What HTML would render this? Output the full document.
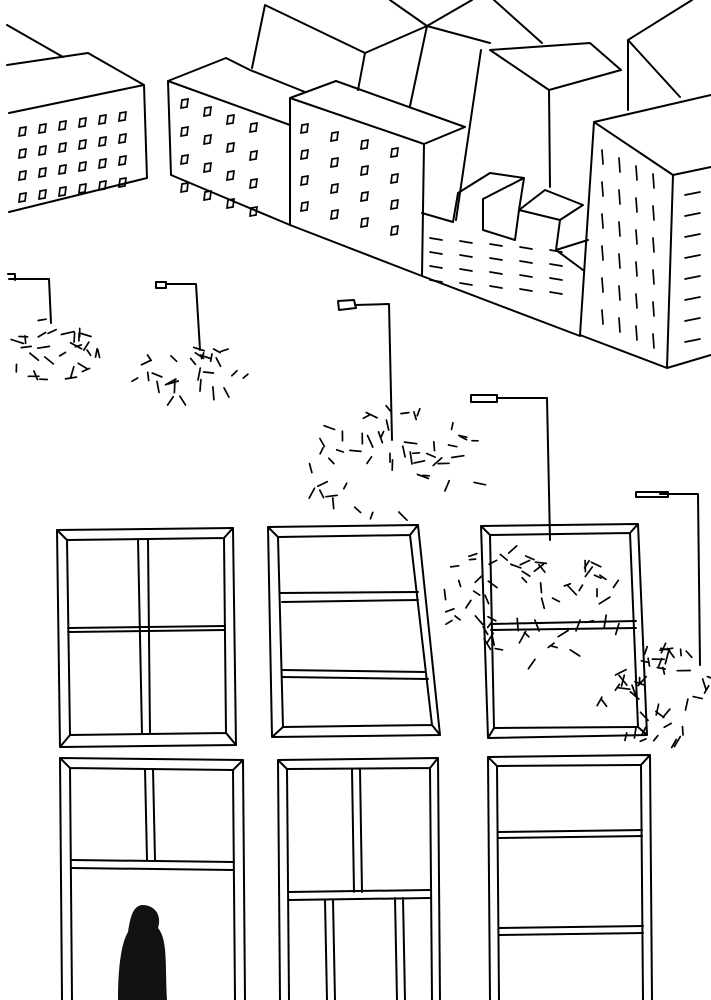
<!DOCTYPE html>
<html><head><meta charset="utf-8"><style>
html,body{margin:0;padding:0;background:#fff;width:711px;height:1000px;overflow:hidden}
svg{display:block}
</style></head><body>
<svg id="s" width="711" height="1000" viewBox="0 0 711 1000" xmlns="http://www.w3.org/2000/svg">
<g fill="none" stroke="#000" stroke-width="2" stroke-linecap="round" stroke-linejoin="round">
<!-- building 1 -->
<path d="M7,25 L63,57 M7,65 L88,53 L144,85 L147,178 L9,212 M9,113 L144,85"/>
<!-- building 2 -->
<path d="M168,81 L226,58 L250,70 L305,92 M168,81 L290,125 M168,81 L171,175 L290,225"/>
<!-- building 3 -->
<path d="M290,98 L336,81 L465,127 L424,144 L290,98 M290,98 L290,225 M424,144 L422,276 M290,225 L422,276 L580,336"/>
<!-- back tall buildings -->
<path d="M265,5 L252,68 M265,5 L365,53 L358,90 M365,53 L427,26 L410,106 M427,26 L490,43 M390,0 L427,26 L472,0 M494,0 L542,43 M490,50 L590,43 L621,70 M490,50 L549,90 L621,70 M549,90 L550,187 M481,50 L456,220 M628,40 L628,110 M628,40 L680,97 M628,40 L692,0"/>
<!-- right building -->
<path d="M594,122 L673,175 L711,167 M594,122 L711,95 M594,122 L580,335 L667,368 L711,355 M673,175 L667,368"/>
<!-- lower wall with steps -->
<path d="M422,213 L453,222 L458,193 L490,173 L524,178 L483,199 L483,230 L515,240 L519,210 L545,190 L583,205 L560,220 L556,250 L588,240 M524,178 L519,210 M519,210 L560,220 M556,250 L583,270"/>
<!-- lamp poles -->
<path d="M9,279 L49,279 L51,323 M166,284 L196,284 L200,350 M355,305 L389,304 L392,440 M497,398 L547,398 L550,540 M660,494 L698,494 L700,665"/>
<path d="M8,274 L15,274 L15,280 M338,301 L354,300 L356,308 L339,310Z M471,395 L497,395 L497,402 L471,402Z M636,492 L668,492 L668,497 L636,497Z M156,282 L166,282 L166,288 L156,288Z"/>
<!-- windows row 1 -->
<path d="M57,530 L233,528 L236,745 L60,747 Z M67,540 L224,538 L226,733 L70,735 Z M57,530 L67,540 M233,528 L224,538 M236,745 L226,733 M60,747 L70,735"/>
<path d="M138,539 L142,734 M148,539 L150,734 M68,628 L225,626 M68,632 L225,630"/>
<path d="M268,527 L418,525 L440,735 L272,737 Z M278,537 L410,535 L432,725 L283,727 Z M268,527 L278,537 M418,525 L410,535 M440,735 L432,725 M272,737 L283,727"/>
<path d="M280,593 L418,592 M282,602 L418,600 M282,670 L425,672 M282,677 L428,679"/>
<path d="M481,526 L638,524 L647,735 L488,738 Z M490,535 L630,533 L638,727 L494,728 Z M481,526 L490,535 M638,524 L630,533 M647,735 L638,727 M488,738 L494,728"/>
<path d="M491,624 L636,621 M491,630 L636,628"/>
<!-- windows row 2 -->
<path d="M60,758 L243,760 L245,1000 M60,758 L62,1000 M70,768 L233,770 L235,1000 M70,768 L72,1000 M60,758 L70,768 M243,760 L233,770"/>
<path d="M145,769 L147,860 M153,769 L155,860 M72,860 L234,862 M72,868 L234,870"/>
<path d="M278,760 L438,758 L440,1000 M278,760 L280,1000 M287,769 L430,768 L432,1000 M287,769 L289,1000 M278,760 L287,769 M438,758 L430,768"/>
<path d="M352,769 L354,892 M360,769 L362,892 M289,892 L430,890 M289,900 L430,898 M325,900 L327,1000 M333,900 L335,1000 M395,898 L397,1000 M403,898 L405,1000"/>
<path d="M488,757 L650,755 L652,1000 M488,757 L490,1000 M497,766 L641,765 L643,1000 M497,766 L499,1000 M488,757 L497,766 M650,755 L641,765"/>
<path d="M499,832 L642,830 M499,838 L642,836 M499,928 L643,926 M499,935 L643,933"/>
</g>
<g id="marks" fill="none" stroke="#000" stroke-width="1.7" stroke-linecap="round"></g>
<!-- person -->
<path d="M142,905 C155,905 162,915 158,928 C168,940 165,965 167,1000 L118,1000 C118,975 120,945 128,932 C130,920 132,906 142,905 Z" fill="#111"/>
</svg>
<script>
var seed=11;function r(){seed=(seed*16807)%2147483647;return seed/2147483647;}
var g=document.getElementById('marks'),h='';
function L(x1,y1,x2,y2){h+='<line x1="'+x1.toFixed(1)+'" y1="'+y1.toFixed(1)+'" x2="'+x2.toFixed(1)+'" y2="'+y2.toFixed(1)+'"/>';}
function box(x,y){h+='<path d="M'+x+','+y+' l6,-1 l-1,8 l-6,1 z"/>';}
for(var i=0;i<4;i++)for(var j=0;j<6;j++)box(20+j*20,128+i*22-j*3);
for(var i=0;i<4;i++)for(var j=0;j<4;j++)box(182+j*23,100+i*28+j*8);
for(var i=0;i<4;i++)for(var j=0;j<4;j++)box(302+j*30,125+i*26+j*8);
for(var i=0;i<6;i++)for(var j=0;j<4;j++){var x=602+j*17,y=150+i*32+j*8;L(x,y,x+1,y+14);}
for(var i=0;i<8;i++){var y=195+i*21;L(685,y,700,y-3);}
for(var i=0;i<4;i++)for(var j=0;j<5;j++){var x=430+j*30,y=238+i*14+j*3;if(x+j<560)L(x,y,x+12,y+2);}
function cloud(cx,cy,rx,ry,n){for(var k=0;k<n;k++){var a=r()*6.28,d=Math.sqrt(r());var x=cx+Math.cos(a)*rx*d,y=cy+Math.sin(a)*ry*d;var t=r()*3.14,l=6+r()*7;L(x,y,x+Math.cos(t)*l,y+Math.sin(t)*l);}}
cloud(55,350,48,35,30);cloud(195,372,60,28,28);cloud(395,460,95,55,50);
cloud(535,600,95,60,60);cloud(655,690,58,55,45);
g.innerHTML=h;
</script>
</body></html>
